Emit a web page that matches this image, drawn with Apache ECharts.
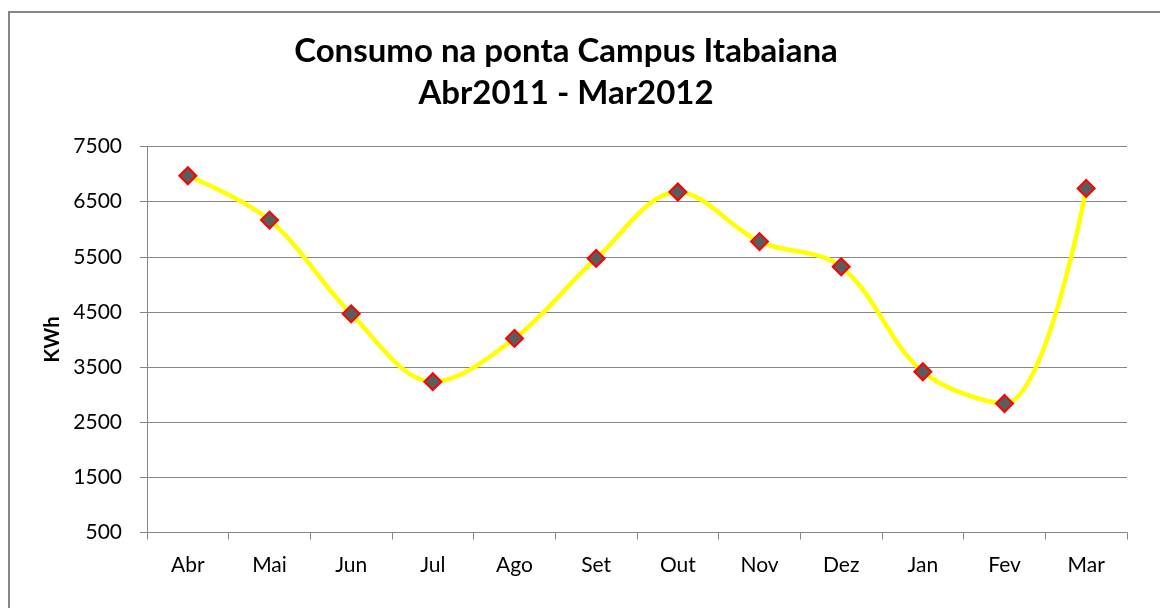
<!DOCTYPE html>
<html>
<head>
<meta charset="utf-8">
<script src="https://cdn.jsdelivr.net/npm/echarts@6/dist/echarts.min.js"></script>
<style>
html,body{margin:0;padding:0;background:#fff;}
#chart{width:1160px;height:608px;}
</style>
</head>
<body>
<div id="chart"></div>
<script>
const categories = ['Abr','Mai','Jun','Jul','Ago','Set','Out','Nov','Dez','Jan','Fev','Mar'];
const consumo = [6970, 6165, 4465, 3235, 4020, 5470, 6675, 5775, 5320, 3415, 2840, 6740];
const titleLines = ['Consumo na ponta Campus Itabaiana', 'Abr2011 - Mar2012'];
const yAxisName = 'KWh';

const chart = echarts.init(document.getElementById('chart'));
const gray = '#868686';
chart.setOption({
  backgroundColor: '#fff',
  animation: false,
  title: {
    text: titleLines.join('\n'),
    left: 561,
    textAlign: 'center',
    top: 25,
    textStyle: {
      fontFamily: 'Lato',
      fontWeight: 'bold',
      fontSize: 33,
      lineHeight: 42,
      color: '#000'
    }
  },
  graphic: [{
    type: 'rect',
    silent: true,
    shape: {x: 9, y: 12, width: 1300, height: 800},
    style: {fill: 'none', stroke: gray, lineWidth: 2}
  }],
  grid: {left: 147, right: 33, top: 146.5, bottom: 75.5, containLabel: false},
  xAxis: {
    type: 'category',
    data: categories,
    boundaryGap: true,
    axisLine: {show: true, lineStyle: {color: gray, width: 1}},
    axisTick: {show: true, length: 7, inside: false, lineStyle: {color: gray}},
    axisLabel: {margin: 22, fontFamily: 'Lato', fontSize: 21, color: '#000'},
    splitLine: {show: false}
  },
  yAxis: {
    type: 'value',
    min: 500,
    max: 7500,
    interval: 1000,
    name: yAxisName,
    nameLocation: 'middle',
    nameRotate: 90,
    nameGap: 84,
    nameTextStyle: {fontFamily: 'Lato', fontWeight: 'bold', fontSize: 20, color: '#000'},
    axisLine: {show: true, lineStyle: {color: gray, width: 1}},
    axisTick: {show: true, length: 7, inside: false, lineStyle: {color: gray}},
    axisLabel: {margin: 25, fontFamily: 'Lato', fontSize: 21, color: '#000',
      formatter: function (v) { return String(v); }},
    splitLine: {show: true, lineStyle: {color: gray, width: 1}}
  },
  series: [{
    type: 'line',
    data: consumo,
    smooth: 0.35,
    symbol: 'diamond',
    symbolSize: 17,
    lineStyle: {color: '#ffff00', width: 4.5},
    itemStyle: {color: '#5c5c5c', borderColor: '#ff0000', borderWidth: 2},
    z: 3
  }]
});
</script>
</body>
</html>
